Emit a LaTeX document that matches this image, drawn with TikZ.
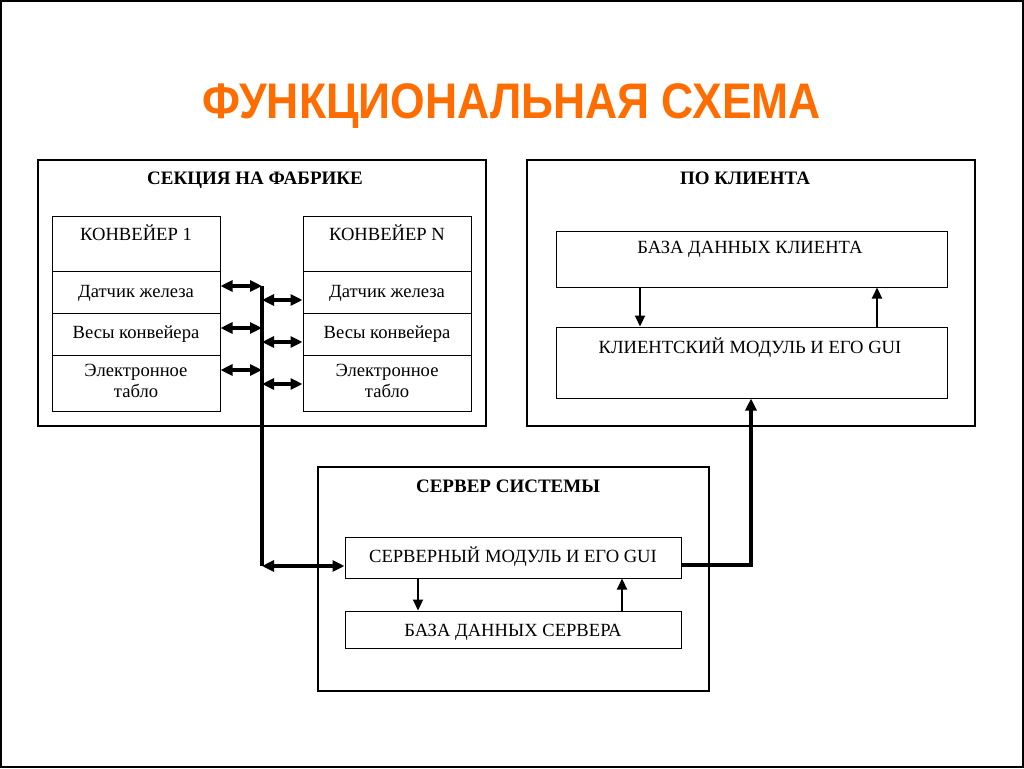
\documentclass[tikz,border=0pt]{standalone}
\usepackage{fontspec}
\setmainfont{Liberation Serif}
\newfontfamily\titlefont{Liberation Sans}
\usetikzlibrary{arrows.meta,calc}
\begin{document}
\begin{tikzpicture}[x=1pt,y=-1pt,
  frame/.style={draw, line width=1.2pt, rectangle, inner sep=0pt},
  cell/.style={draw, line width=1pt, rectangle, inner sep=0pt},
  txt/.style={anchor=base, inner sep=0pt, font=\fontsize{18.6}{21}\selectfont, align=center},
  hdr/.style={anchor=base, inner sep=0pt, font=\fontsize{19}{20}\selectfont\bfseries},
  bus/.style={line width=3.2pt},
  dbl/.style={line width=3.2pt, {Triangle[length=12pt,width=11pt]}-{Triangle[length=12pt,width=11pt]}},
  one/.style={line width=3.2pt, -{Triangle[length=12pt,width=11pt]}},
  thin/.style={line width=2.2pt, -{Triangle[length=11pt,width=10pt]}}
]
\useasboundingbox (0,0) rectangle (1024,768);
\draw[line width=2pt] (1,1) rectangle (1023,767);

% title
\node[anchor=base, inner sep=0pt, text=orange!85!red] (title) at (512,118)
  {\scalebox{0.89}[1]{\titlefont\bfseries\fontsize{50}{50}\selectfont ФУНКЦИОНАЛЬНАЯ СХЕМА}};

% outer frames
\node[frame, minimum width=448, minimum height=266] (sec) at (262,293) {};
\node[frame, minimum width=448, minimum height=266] (cli) at (751,293) {};
\node[frame, minimum width=391, minimum height=224] (srv) at (513.5,579) {};
\node[hdr] (secT) at (255,184) {СЕКЦИЯ НА ФАБРИКЕ};
\node[hdr] (cliT) at (745,184) {ПО КЛИЕНТА};
\node[hdr] (srvT) at (508,492) {СЕРВЕР СИСТЕМЫ};

% conveyor 1
\node[cell, minimum width=168, minimum height=55] (k1h) at (136,243.5) {};
\node[cell, minimum width=168, minimum height=42] (k1a) at (136,292) {};
\node[cell, minimum width=168, minimum height=42] (k1b) at (136,334) {};
\node[cell, minimum width=168, minimum height=56] (k1c) at (136,383) {};
\node[txt] (k1hT) at (136,240) {КОНВЕЙЕР 1};
\node[txt] (k1aT) at (136,297) {Датчик железа};
\node[txt] (k1bT) at (136,338) {Весы конвейера};
\node[txt, anchor=north] (k1cT) at (136,364) {Электронное\\табло};

% conveyor N
\node[cell, minimum width=168, minimum height=55] (kNh) at (387,243.5) {};
\node[cell, minimum width=168, minimum height=42] (kNa) at (387,292) {};
\node[cell, minimum width=168, minimum height=42] (kNb) at (387,334) {};
\node[cell, minimum width=168, minimum height=56] (kNc) at (387,383) {};
\node[txt] (kNhT) at (387,240) {КОНВЕЙЕР N};
\node[txt] (kNaT) at (387,297) {Датчик железа};
\node[txt] (kNbT) at (387,338) {Весы конвейера};
\node[txt, anchor=north] (kNcT) at (387,364) {Электронное\\табло};

% client
\node[cell, minimum width=391, minimum height=56] (dbc) at (751.5,259) {};
\node[cell, minimum width=391, minimum height=71] (cm) at (751.5,362.5) {};
\node[txt] (dbcT) at (750,253) {БАЗА ДАННЫХ КЛИЕНТА};
\node[txt] (cmT) at (750,353) {КЛИЕНТСКИЙ МОДУЛЬ И ЕГО GUI};

% server
\node[cell, minimum width=336, minimum height=41] (sm) at (513,557.5) {};
\node[cell, minimum width=336, minimum height=37] (dbs) at (513,629.5) {};
\node[txt] (smT) at (513,562) {СЕРВЕРНЫЙ МОДУЛЬ И ЕГО GUI};
\node[txt] (dbsT) at (513,636) {БАЗА ДАННЫХ СЕРВЕРА};

% bus
\coordinate (b1) at (262,286);
\coordinate (b2) at (262,328);
\coordinate (b3) at (262,370);
\coordinate (r1) at (262,300);
\coordinate (r2) at (262,342);
\coordinate (r3) at (262,384);
\coordinate (bb) at (262,566);
\draw[bus] (b1) -- (bb);
\draw[dbl] (b1 -| k1a.east) -- (b1);
\draw[dbl] (b2 -| k1b.east) -- (b2);
\draw[dbl] (b3 -| k1c.east) -- (b3);
\draw[dbl] (r1) -- (r1 -| kNa.west);
\draw[dbl] (r2) -- (r2 -| kNb.west);
\draw[dbl] (r3) -- (r3 -| kNc.west);
\draw[dbl] (bb) -- (bb -| sm.west);

% server to client
\coordinate (sc) at (751,565);
\draw[one] (sc -| sm.east) -- (sc) -- (sc |- cm.south);

% inner arrows
\draw[thin] (418,578) coordinate (sd) (sd |- sm.south) -- (sd |- dbs.north);
\draw[thin] (622,611) coordinate (su) (su |- dbs.north) -- (su |- sm.south);
\draw[thin] (640,287) coordinate (cd) (cd |- dbc.south) -- (cd |- cm.north);
\draw[thin] (877,327) coordinate (cu) (cu |- cm.north) -- (cu |- dbc.south);
\end{tikzpicture}
\end{document}
